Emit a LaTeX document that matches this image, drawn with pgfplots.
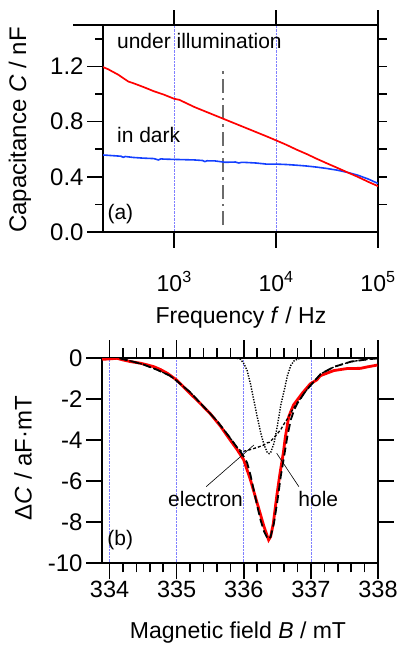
\documentclass[border=0pt]{standalone}
\usepackage{fontspec}
\setmainfont{Liberation Sans}
\usepackage{pgfplots}
\usepackage{pgfplotstable}
\pgfplotsset{compat=1.18}
\definecolor{myred}{rgb}{1,0,0}
\definecolor{myblue}{rgb}{0.08,0.25,1}
\definecolor{gridblue}{rgb}{0.5,0.5,1}
\definecolor{dashgray}{rgb}{0.42,0.42,0.42}

\pgfplotstableread{
f C
200 1.195
224 1.18
251 1.16
282 1.14
316 1.115
355 1.09
398 1.078
501 1.05
631 1.02
794 0.995
1000 0.965
1122 0.958
1259 0.94
1585 0.905
1995 0.875
2512 0.845
3162 0.815
3981 0.785
5012 0.755
6310 0.725
7943 0.695
10000 0.664
12589 0.632
15849 0.597
19953 0.565
25119 0.53
31623 0.497
39811 0.465
50119 0.432
63096 0.40
79433 0.365
100000 0.332
}\illum

\pgfplotstableread{
f C
200 0.558
251 0.553
300 0.549
316 0.541
330 0.547
398 0.54
501 0.535
631 0.532
700 0.522
740 0.530
794 0.528
1000 0.526
1585 0.522
1900 0.518
1995 0.510
2100 0.516
2512 0.515
3162 0.505
3981 0.507
4300 0.500
4600 0.505
5012 0.504
6310 0.50
7600 0.494
8000 0.492
10000 0.492
12589 0.489
15849 0.484
19953 0.478
25119 0.47
31623 0.46
39811 0.448
50119 0.432
63096 0.412
79433 0.385
100000 0.352
}\dark

\pgfplotstableread{
B D
333.89 -0.05
334.0 -0.03
334.11 0
334.2 -0.08
334.31 -0.16
334.46 -0.24
334.56 -0.32
334.66 -0.41
334.76 -0.55
334.86 -0.73
335.0 -1.06
335.15 -1.55
335.35 -2.2
335.5 -2.7
335.65 -3.3
335.8 -4.0
335.9 -4.45
336.0 -4.96
336.1 -5.94
336.2 -7.07
336.3 -8.2
336.37 -8.86
336.4 -8.7
336.44 -8.05
336.49 -6.75
336.54 -5.6
336.59 -4.6
336.62 -3.82
336.67 -2.85
336.74 -2.28
336.87 -1.71
336.99 -1.25
337.09 -1.05
337.14 -0.85
337.34 -0.6
337.54 -0.5
337.74 -0.49
337.84 -0.42
337.99 -0.33
}\meas

\pgfplotstableread{
B D
334.15 0
334.3 -0.12
334.5 -0.3
334.7 -0.55
334.9 -0.85
335.0 -1.1
335.2 -1.65
335.4 -2.35
335.6 -3.05
335.8 -3.9
335.9 -4.35
335.95 -4.55
336.0 -4.8
336.05 -5.1
336.1 -5.7
336.15 -6.45
336.2 -7.2
336.25 -7.89
336.3 -8.43
336.35 -8.77
336.38 -8.82
336.4 -8.7
336.45 -8.03
336.5 -6.98
336.55 -5.78
336.6 -4.8
336.65 -3.8
336.7 -3.0
336.75 -2.52
336.8 -2.19
336.85 -1.95
336.9 -1.7
337.0 -1.3
337.15 -0.75
337.35 -0.41
337.6 -0.16
337.85 -0.05
338.0 0
}\fitsum

\pgfplotstableread{
B D
334.15 0
334.3 -0.12
334.5 -0.3
334.7 -0.55
334.9 -0.85
335.0 -1.1
335.2 -1.65
335.4 -2.35
335.6 -3.05
335.8 -3.9
335.9 -4.35
335.97 -4.55
336.05 -4.5
336.1 -4.45
336.2 -4.35
336.25 -4.29
336.3 -4.23
336.35 -4.12
336.38 -4.1
336.45 -3.88
336.5 -3.68
336.55 -3.48
336.6 -3.2
336.65 -2.95
336.7 -2.65
336.75 -2.4
336.8 -2.15
336.85 -1.95
336.9 -1.7
337.0 -1.3
337.15 -0.75
337.35 -0.41
337.6 -0.16
337.85 -0.05
338.0 0
}\electron

\pgfplotstableread{
B D
335.90 0
335.95 -0.05
336.00 -0.25
336.05 -0.6
336.10 -1.25
336.15 -2.05
336.20 -2.85
336.25 -3.6
336.30 -4.2
336.35 -4.6
336.38 -4.65
336.40 -4.6
336.45 -4.15
336.50 -3.3
336.55 -2.3
336.60 -1.6
336.65 -0.85
336.70 -0.35
336.75 -0.12
336.80 -0.04
336.85 0
}\hole

\pgfplotsset{
  igor/.style={
    scale only axis,
    tick align=outside,
    xtick pos=both, ytick pos=both,
    xticklabel pos=lower, yticklabel pos=left,
    major tick length=16pt, minor tick length=8.5pt,
    tick style={draw=none},
    axis line style={line width=1.6pt},
    xmajorgrids,
    major grid style={gridblue, densely dotted, line width=0.6pt},
  }
}

\begin{document}
\begin{tikzpicture}
\path (0pt,0pt) rectangle (396pt,645pt);

% ---------- panel (a)
\begin{axis}[
  igor,
  at={(103pt,413pt)}, anchor=south west,
  width=275pt, height=207pt,
  xmode=log, xmin=200, xmax=1e5,
  ymin=0, ymax=1.5,
  xtick={1000,10000,100000},
  xticklabels={10\textsuperscript{3},10\textsuperscript{4},10\textsuperscript{5}},
  xminorticks=false,
  ytick={0,0.4,0.8,1.2},
  yticklabels={0.0,0.4,0.8,1.2},
  minor ytick={0.2,0.6,1.0,1.4},
  xticklabel style={font=\fontsize{23}{27}\selectfont, yshift=-20pt},
  yticklabel style={font=\fontsize{24}{28}\selectfont},
]
\addplot[dashgray, line width=1.4pt, dash pattern=on 14pt off 5pt on 2.5pt off 5pt] coordinates {(3000,0.05) (3000,1.17)};
\addplot[myblue, line width=1.6pt] table[x=f,y=C] {\dark};
\addplot[myred, line width=1.7pt] table[x=f,y=C] {\illum};
\node[anchor=base west, inner sep=0, font=\fontsize{21}{25}\selectfont] at (axis cs:274,1.329) {under illumination};
\node[anchor=base west, inner sep=0, font=\fontsize{21}{25}\selectfont] at (axis cs:274,0.647) {in dark};
\node[anchor=center, inner sep=0, font=\fontsize{21}{25}\selectfont] at (axis cs:296,0.129) {(a)};
\end{axis}
% tick marks of panel (a), on the axis frame (103..378 x 413..620)
\draw[line width=1.6pt] (87pt,413pt) -- (103pt,413pt);
\draw[line width=1.6pt] (87pt,468.2pt) -- (103pt,468.2pt);
\draw[line width=1.6pt] (87pt,523.4pt) -- (103pt,523.4pt);
\draw[line width=1.6pt] (87pt,578.6pt) -- (103pt,578.6pt);
\draw[line width=1.6pt] (95pt,440.6pt) -- (103pt,440.6pt);
\draw[line width=1.6pt] (95pt,495.8pt) -- (103pt,495.8pt);
\draw[line width=1.6pt] (95pt,551pt) -- (103pt,551pt);
\draw[line width=1.6pt] (95pt,606.2pt) -- (103pt,606.2pt);
\draw[line width=1.6pt] (378pt,440.6pt) -- (387pt,440.6pt);
\draw[line width=1.6pt] (378pt,468.2pt) -- (387pt,468.2pt);
\draw[line width=1.6pt] (378pt,495.8pt) -- (387pt,495.8pt);
\draw[line width=1.6pt] (378pt,523.4pt) -- (387pt,523.4pt);
\draw[line width=1.6pt] (378pt,551pt) -- (387pt,551pt);
\draw[line width=1.6pt] (378pt,578.6pt) -- (387pt,578.6pt);
\draw[line width=1.6pt] (378pt,606.2pt) -- (387pt,606.2pt);
\draw[line width=1.6pt] (174.22pt,397pt) -- (174.22pt,413pt);
\draw[line width=1.6pt] (276.11pt,397pt) -- (276.11pt,413pt);
\draw[line width=1.6pt] (378pt,397pt) -- (378pt,413pt);
\draw[line width=1.6pt] (174.22pt,620pt) -- (174.22pt,635pt);
\draw[line width=1.6pt] (276.11pt,620pt) -- (276.11pt,635pt);
\draw[line width=1.6pt] (378pt,620pt) -- (378pt,635pt);
\draw[line width=1.6pt] (73pt,620pt) -- (103pt,620pt);
\node[rotate=90, anchor=center, inner sep=0, font=\fontsize{24}{28}\selectfont] at (20pt,515pt) {Capacitance \textit{C} / nF};
\node[anchor=base, inner sep=0, font=\fontsize{23}{27}\selectfont] at (241pt,321.7pt) {Frequency \textit{f} / Hz};

% ---------- panel (b)
\begin{axis}[
  igor,
  at={(102pt,81.7pt)}, anchor=south west,
  width=276pt, height=205pt,
  xmin=333.887, xmax=338,
  ymin=-10, ymax=0,
  xtick={334,335,336,337,338},
  xticklabels={334,335,336,337,338},
  minor x tick num=4,
  ytick={-10,-8,-6,-4,-2,0},
  yticklabels={-10,-8,-6,-4,-2,0},
  xticklabel style={font=\fontsize{23.5}{27}\selectfont, yshift=2pt},
  yticklabel style={font=\fontsize{24}{28}\selectfont},
]
\addplot[myred, line width=2.8pt] table[x=B,y=D] {\meas};
\addplot[black, line width=1.8pt, dash pattern=on 8pt off 4pt] table[x=B,y=D] {\fitsum};
\addplot[black, line width=1.3pt, dash pattern=on 3pt off 2pt] table[x=B,y=D] {\electron};
\addplot[black, line width=1.4pt, dash pattern=on 1.3pt off 1.4pt] table[x=B,y=D] {\hole};
\draw[line width=0.6pt] (axis cs:335.44,-6.26) -- (axis cs:336.15,-4.23);
\draw[line width=0.6pt] (axis cs:336.82,-6.26) -- (axis cs:336.49,-4.63);
\node[anchor=base, inner sep=0, font=\fontsize{21}{25}\selectfont] at (axis cs:335.43,-7.24) {electron};
\node[anchor=base, inner sep=0, font=\fontsize{21}{25}\selectfont] at (axis cs:337.11,-7.24) {hole};
\node[anchor=center, inner sep=0, font=\fontsize{21}{25}\selectfont] at (axis cs:334.16,-8.86) {(b)};
\end{axis}
% tick marks of panel (b), on the axis frame (102..378 x 81.7..286.7)
\draw[line width=1.6pt] (86pt,81.7pt) -- (102pt,81.7pt);
\draw[line width=1.6pt] (86pt,122.7pt) -- (102pt,122.7pt);
\draw[line width=1.6pt] (86pt,163.7pt) -- (102pt,163.7pt);
\draw[line width=1.6pt] (86pt,204.7pt) -- (102pt,204.7pt);
\draw[line width=1.6pt] (86pt,245.7pt) -- (102pt,245.7pt);
\draw[line width=1.6pt] (86pt,286.7pt) -- (102pt,286.7pt);
\draw[line width=1.6pt] (378pt,122.7pt) -- (394pt,122.7pt);
\draw[line width=1.6pt] (378pt,163.7pt) -- (394pt,163.7pt);
\draw[line width=1.6pt] (378pt,204.7pt) -- (394pt,204.7pt);
\draw[line width=1.6pt] (378pt,245.7pt) -- (394pt,245.7pt);
\draw[line width=1.6pt] (109.58pt,65.7pt) -- (109.58pt,81.7pt);
\draw[line width=1.6pt] (176.68pt,65.7pt) -- (176.68pt,81.7pt);
\draw[line width=1.6pt] (243.79pt,65.7pt) -- (243.79pt,81.7pt);
\draw[line width=1.6pt] (310.89pt,65.7pt) -- (310.89pt,81.7pt);
\draw[line width=1.6pt] (378pt,65.7pt) -- (378pt,81.7pt);
\draw[line width=1.6pt] (109.58pt,286.7pt) -- (109.58pt,304.7pt);
\draw[line width=1.6pt] (176.68pt,286.7pt) -- (176.68pt,304.7pt);
\draw[line width=1.6pt] (243.79pt,286.7pt) -- (243.79pt,304.7pt);
\draw[line width=1.6pt] (310.89pt,286.7pt) -- (310.89pt,304.7pt);
\draw[line width=1.6pt] (378pt,286.7pt) -- (378pt,304.7pt);
\draw[line width=1.6pt] (123pt,72.7pt) -- (123pt,81.7pt);
\draw[line width=1.6pt] (136.42pt,72.7pt) -- (136.42pt,81.7pt);
\draw[line width=1.6pt] (149.84pt,72.7pt) -- (149.84pt,81.7pt);
\draw[line width=1.6pt] (163.26pt,72.7pt) -- (163.26pt,81.7pt);
\draw[line width=1.6pt] (190.1pt,72.7pt) -- (190.1pt,81.7pt);
\draw[line width=1.6pt] (203.52pt,72.7pt) -- (203.52pt,81.7pt);
\draw[line width=1.6pt] (216.94pt,72.7pt) -- (216.94pt,81.7pt);
\draw[line width=1.6pt] (230.36pt,72.7pt) -- (230.36pt,81.7pt);
\draw[line width=1.6pt] (257.21pt,72.7pt) -- (257.21pt,81.7pt);
\draw[line width=1.6pt] (270.63pt,72.7pt) -- (270.63pt,81.7pt);
\draw[line width=1.6pt] (284.05pt,72.7pt) -- (284.05pt,81.7pt);
\draw[line width=1.6pt] (297.47pt,72.7pt) -- (297.47pt,81.7pt);
\draw[line width=1.6pt] (324.31pt,72.7pt) -- (324.31pt,81.7pt);
\draw[line width=1.6pt] (337.73pt,72.7pt) -- (337.73pt,81.7pt);
\draw[line width=1.6pt] (351.15pt,72.7pt) -- (351.15pt,81.7pt);
\draw[line width=1.6pt] (364.57pt,72.7pt) -- (364.57pt,81.7pt);
\draw[line width=1.6pt] (123pt,286.7pt) -- (123pt,296.7pt);
\draw[line width=1.6pt] (136.42pt,286.7pt) -- (136.42pt,296.7pt);
\draw[line width=1.6pt] (149.84pt,286.7pt) -- (149.84pt,296.7pt);
\draw[line width=1.6pt] (163.26pt,286.7pt) -- (163.26pt,296.7pt);
\draw[line width=1.6pt] (190.1pt,286.7pt) -- (190.1pt,296.7pt);
\draw[line width=1.6pt] (203.52pt,286.7pt) -- (203.52pt,296.7pt);
\draw[line width=1.6pt] (216.94pt,286.7pt) -- (216.94pt,296.7pt);
\draw[line width=1.6pt] (230.36pt,286.7pt) -- (230.36pt,296.7pt);
\draw[line width=1.6pt] (257.21pt,286.7pt) -- (257.21pt,296.7pt);
\draw[line width=1.6pt] (270.63pt,286.7pt) -- (270.63pt,296.7pt);
\draw[line width=1.6pt] (284.05pt,286.7pt) -- (284.05pt,296.7pt);
\draw[line width=1.6pt] (297.47pt,286.7pt) -- (297.47pt,296.7pt);
\draw[line width=1.6pt] (324.31pt,286.7pt) -- (324.31pt,296.7pt);
\draw[line width=1.6pt] (337.73pt,286.7pt) -- (337.73pt,296.7pt);
\draw[line width=1.6pt] (351.15pt,286.7pt) -- (351.15pt,296.7pt);
\draw[line width=1.6pt] (364.57pt,286.7pt) -- (364.57pt,296.7pt);
\node[rotate=90, anchor=center, inner sep=0, font=\fontsize{24}{28}\selectfont] at (23pt,187pt) {Δ\textit{C} / aF·mT};
\node[anchor=base, inner sep=0, font=\fontsize{23}{27}\selectfont] at (238pt,6.7pt) {Magnetic field \textit{B} / mT};
\end{tikzpicture}
\end{document}
